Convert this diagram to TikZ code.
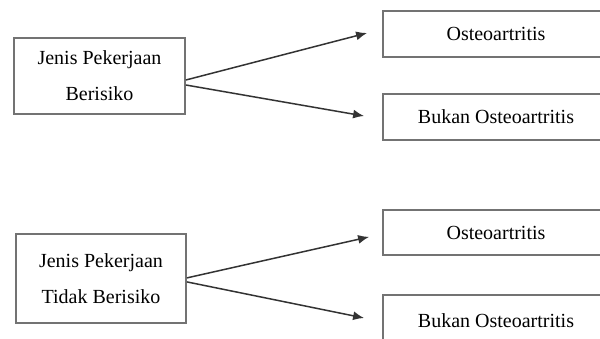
\documentclass[tikz,border=0pt]{standalone}
\usepackage{fontspec}
\setmainfont{Liberation Serif}
\usetikzlibrary{arrows.meta,positioning}

\begin{document}
\begin{tikzpicture}[x=0.5pt,y=-0.5pt]
\tikzstyle{faktor}=[draw=black!55,line width=0.9pt,align=center,inner sep=0pt,font=\fontsize{10}{18}\selectfont]
\tikzstyle{hasil}=[draw=black!55,line width=0.9pt,minimum width=113pt,minimum height=23pt,inner sep=0pt,font=\fontsize{10}{12}\selectfont]
\tikzstyle{panah}=[draw=black!80,line width=0.75pt,-{Latex[length=5.5pt,width=4.5pt]}]
\clip (0,0) rectangle (600,338);

% kelompok berisiko
\node [faktor,minimum width=85.5pt,minimum height=38pt] (berisiko) at (99.5,76) {Jenis Pekerjaan\\Berisiko};
\node [hasil] (oa1) at (496,34) {Osteoartritis};
\node [hasil] (bukan1) at (496,117) {Bukan Osteoartritis};

% kelompok tidak berisiko
\node [faktor,minimum width=85pt,minimum height=44.5pt] (tidak) at (101,278.5) {Jenis Pekerjaan\\Tidak Berisiko};
\node [hasil,minimum height=22.5pt] (oa2) at (496,232.5) {Osteoartritis};
\node [hasil,minimum height=26pt] (bukan2) at (496,321) {Bukan Osteoartritis};

\draw [panah] ([yshift=-2pt]berisiko.east) -- ([xshift=-7.5pt,yshift=0.5pt]oa1.west);
\draw [panah] ([yshift=-4.5pt]berisiko.east) -- ([xshift=-9pt,yshift=0.5pt]bukan1.west);
\draw [panah] ([yshift=0.3pt]tidak.east) -- ([xshift=-6.5pt,yshift=-2.2pt]oa2.west);
\draw [panah] ([yshift=-1.7pt]tidak.east) -- ([xshift=-9pt,yshift=1.5pt]bukan2.west);
\end{tikzpicture}
\end{document}
